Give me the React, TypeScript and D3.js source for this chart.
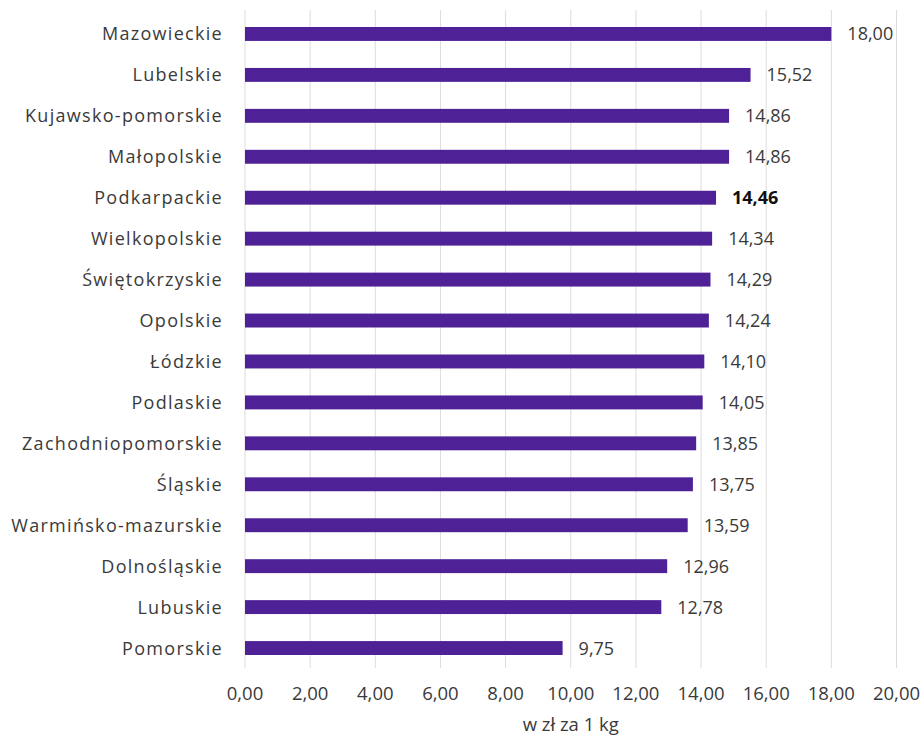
import React from "react";
import * as d3 from "d3";

const regions = [
  "Mazowieckie", "Lubelskie", "Kujawsko-pomorskie", "Małopolskie", "Podkarpackie",
  "Wielkopolskie", "Świętokrzyskie", "Opolskie", "Łódzkie", "Podlaskie",
  "Zachodniopomorskie", "Śląskie", "Warmińsko-mazurskie", "Dolnośląskie", "Lubuskie", "Pomorskie",
];
const prices = [18.0, 15.52, 14.86, 14.86, 14.46, 14.34, 14.29, 14.24, 14.1, 14.05, 13.85, 13.75, 13.59, 12.96, 12.78, 9.75];
const highlighted = ["Podkarpackie"];
const xTicks = [0, 2, 4, 6, 8, 10, 12, 14, 16, 18, 20];
const axisTitle = "w zł za 1 kg";

const W = 924, H = 738;
const FONT = "'Open Sans', 'Noto Sans', sans-serif";
const fmt = (v: number) => v.toFixed(2).replace(".", ",");

export default function App() {
  const x = d3.scaleLinear().domain([0, 20]).range([245, 896.5]);
  const y = d3.scaleBand<string>().domain(regions).range([13.5, 668.5]).paddingInner(0.66).paddingOuter(0.33);
  const bw = y.bandwidth();
  return (
    <svg width={W} height={H} style={{ position: "absolute", left: 0, top: 0, background: "#fff" }} fontFamily={FONT}>
      {xTicks.map((t) => (
        <line key={"g" + t} x1={x(t)} x2={x(t)} y1={10} y2={668} stroke="#dcdcdc" strokeWidth={1} />
      ))}
      {regions.map((r, i) => {
        const yc = (y(r) as number) + bw / 2;
        const bold = highlighted.includes(r);
        return (
          <g key={r}>
            <rect x={x(0)} y={y(r)} width={x(prices[i]) - x(0)} height={bw} fill="#4e2296" />
            <text x={223} y={yc} dy="0.36em" textAnchor="end" fontSize={18} letterSpacing={1.3} fill="#3a3a3a">{r}</text>
            <text x={x(prices[i]) + 16} y={yc} dy="0.36em" textAnchor="start" fontSize={18}
              fontWeight={bold ? 700 : 400} fill={bold ? "#111" : "#3a3a3a"}>{fmt(prices[i])}</text>
          </g>
        );
      })}
      {xTicks.map((t) => (
        <text key={"t" + t} x={x(t)} y={700} textAnchor="middle" fontSize={18.5} fill="#3a3a3a">{fmt(t)}</text>
      ))}
      <text x={x(10)} y={731} textAnchor="middle" fontSize={18.5} fill="#3a3a3a">{axisTitle}</text>
    </svg>
  );
}
